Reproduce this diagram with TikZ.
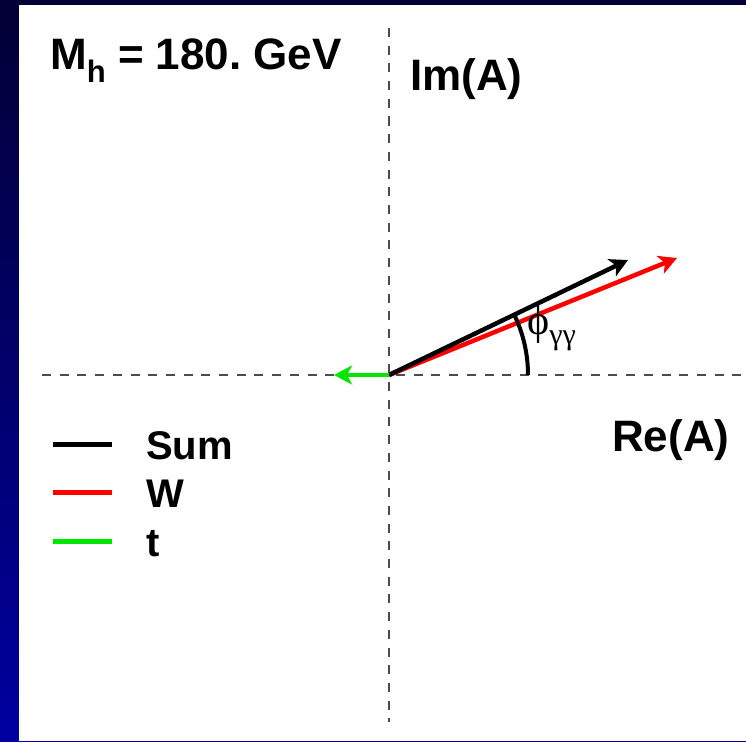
\documentclass[tikz,border=0pt]{standalone}
\usepackage{fontspec}
\setmainfont{Liberation Sans}
\newfontfamily\greekfont{Liberation Serif}
\usetikzlibrary{arrows.meta,positioning}

\definecolor{frametop}{RGB}{2,0,52}
\definecolor{framebot}{RGB}{0,0,160}
\definecolor{wred}{RGB}{255,0,0}
\definecolor{tgreen}{RGB}{0,230,0}

\tikzset{
    axis/.style={black!70, line width=1.2pt, dash pattern=on 9pt off 8.7pt},
    vec/.style={line width=4.5pt, -{Stealth[length=18pt,width=19pt,inset=5pt]}},
    legline/.style={line width=5pt},
    big/.style={font=\fontsize{44}{50}\selectfont\bfseries, inner sep=0pt},
    legtext/.style={font=\fontsize{40}{46}\selectfont\bfseries, inner sep=0pt}
}
\frenchspacing

\begin{document}
\begin{tikzpicture}[x=1pt, y=-1pt]
    \useasboundingbox (0,0) rectangle (746,741);
    % frame
    \shade[top color=frametop, bottom color=framebot] (0,0) rectangle (746,741);
    \fill[white] (19,5) rectangle (746,741);

    % axes
    \coordinate (O) at (389,375);
    \coordinate (ytop) at (389,28);
    \coordinate (ybot) at (389,722);
    \coordinate (xleft) at (42,375);
    \coordinate (xright) at (746,375);
    \draw[axis] (ytop) -- (ybot);
    \draw[axis] (xleft) -- (xright);

    % amplitudes
    \coordinate (Wtip) at (677,258);
    \coordinate (Sumtip) at (628,260);
    \coordinate (ttip) at (334,375);
    \draw[vec, wred] (O) -- (Wtip);
    \draw[vec, black] (O) -- (Sumtip);
    \draw[vec, tgreen] (O) -- (ttip);

    % phase angle
    \draw[line width=4pt] ([xshift=139pt]O) arc[start angle=0, end angle=26, radius=139pt];
    \node[anchor=base west, inner sep=0pt] (phi) at (527,334)
        {\greekfont\fontsize{42}{46}\selectfont ϕ\raisebox{-10pt}{\fontsize{30}{32}\selectfont γγ}};

    % labels
    \node[big, anchor=base west] (mass) at (50,70)
        {M\raisebox{-13pt}{\fontsize{31}{34}\selectfont h} = 180. GeV};
    \node[big, anchor=base west] (im) at (410,91) {Im(A)};
    \node[big, anchor=base west] (re) at (612,451) {Re(A)};

    % legend
    \node[legtext, anchor=base west] (sum) at (146,459) {Sum};
    \node[legtext, anchor=base west] (w) at (146,507) {W};
    \node[legtext, anchor=base west] (t) at (146,556) {t};
    \draw[legline, black] (53,444) -- (112,444);
    \draw[legline, wred] (53,492) -- (112,492);
    \draw[legline, tgreen] (53,541) -- (112,541);
\end{tikzpicture}
\end{document}
